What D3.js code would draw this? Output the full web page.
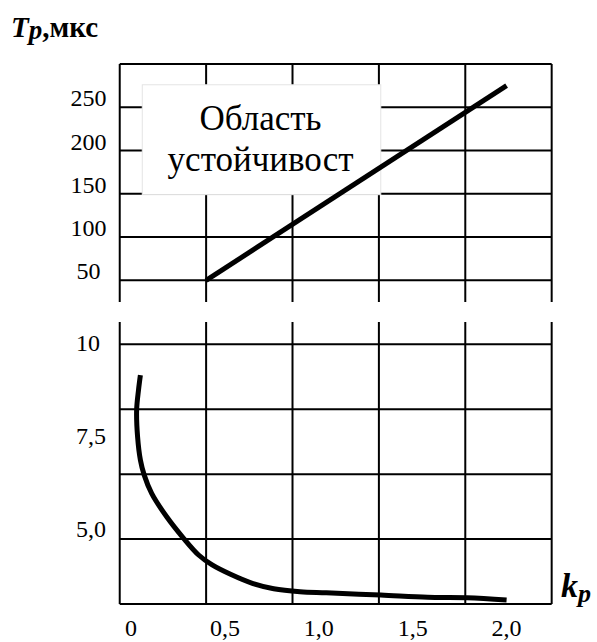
<!DOCTYPE html>
<html>
<head>
<meta charset="utf-8">
<script src="https://cdn.jsdelivr.net/npm/d3@7/dist/d3.min.js"></script>
<style>
  body { margin: 0; background: #fff; }
  svg text { font-family: "Liberation Serif", "Times New Roman", serif; fill: #000; }
  .grid line { stroke: #000; stroke-width: 2; }
  .curve { fill: none; stroke: #000; stroke-width: 5; stroke-linecap: butt; stroke-linejoin: round; }
</style>
</head>
<body>
<svg id="chart" width="597" height="642"></svg>
<script>

// tick labels on the k_p axis
const kTicks = [0, 0.5, 1.0, 1.5, 2.0];
const kLabels = ["0", "0,5", "1,0", "1,5", "2,0"];

// vertical grid lines (in k_p units, the grid does not sit on the labels)
const kGrid = [-0.06, 0.40, 0.86, 1.32, 1.78, 2.24];

// upper panel: T_p in mks
const upperTicks = [50, 100, 150, 200, 250];
const upperK = [0.4, 2.0];
const upperT = [50, 275];

// lower panel
const lowerTicks = [5.0, 7.5, 10];
const lowerLabels = ["5,0", "7,5", "10"];
const lowerGrid = [3, 4.75, 6.5, 8.25, 10];
const lowerK = [0.05, 0.04, 0.03, 0.035, 0.05, 0.07, 0.11, 0.19, 0.28, 0.36,
                0.43, 0.53, 0.65, 0.76, 0.90, 1.04, 1.33, 1.58, 1.79, 2.0];
const lowerT = [9.17, 8.77, 8.23, 7.51, 6.88, 6.48, 5.98, 5.35, 4.77, 4.32,
                4.06, 3.80, 3.55, 3.41, 3.33, 3.30, 3.24, 3.18, 3.17, 3.11];

var svg = d3.select("#chart");

// scales
var xScale = d3.scaleLinear().domain([0, 2]).range([131, 506.6]);
var yUpper = d3.scaleLinear().domain([25, 300]).range([302, 64]);
var yLower = d3.scaleLinear().domain([3, 10.6]).range([604, 322]);

var xLeft = xScale(kGrid[0]);
var xRight = xScale(kGrid[kGrid.length - 1]);

// ---- upper panel grid
var gUp = svg.append("g").attr("class", "grid");

gUp.selectAll("line.v")
    .data(kGrid)
    .enter().append("line")
    .attr("class", "v")
    .attr("x1", function(d) { return xScale(d); })
    .attr("x2", function(d) { return xScale(d); })
    .attr("y1", yUpper(300))
    .attr("y2", yUpper(25));

gUp.selectAll("line.h")
    .data(upperTicks.concat([300]))
    .enter().append("line")
    .attr("class", "h")
    .attr("x1", xLeft)
    .attr("x2", xRight)
    .attr("y1", function(d) { return yUpper(d); })
    .attr("y2", function(d) { return yUpper(d); });

// white label box over the grid
svg.append("rect")
    .attr("x", xScale(0.06))
    .attr("y", yUpper(276))
    .attr("width", xScale(1.33) - xScale(0.06))
    .attr("height", yUpper(149) - yUpper(276))
    .attr("fill", "#fff")
    .attr("stroke", "#e4e4e4")
    .attr("stroke-width", 1);

svg.append("text")
    .attr("x", xScale(0.69))
    .attr("y", yUpper(224))
    .attr("text-anchor", "middle")
    .attr("font-size", 35)
    .text("Область");

svg.append("text")
    .attr("x", xScale(0.69))
    .attr("y", yUpper(176))
    .attr("text-anchor", "middle")
    .attr("font-size", 35)
    .text("устойчивост");

// upper tick labels
svg.append("g").selectAll("text")
    .data(upperTicks)
    .enter().append("text")
    .attr("x", 88.5)
    .attr("y", function(d) { return yUpper(d) - 1; })
    .attr("text-anchor", "middle")
    .attr("font-size", 24)
    .text(function(d) { return d; });

// upper line
var lineUp = d3.line()
    .x(function(d) { return xScale(d[0]); })
    .y(function(d) { return yUpper(d[1]); });

svg.append("path")
    .attr("class", "curve")
    .attr("d", lineUp(d3.zip(upperK, upperT)));

// ---- lower panel grid
var gLow = svg.append("g").attr("class", "grid");

gLow.selectAll("line.v")
    .data(kGrid)
    .enter().append("line")
    .attr("class", "v")
    .attr("x1", function(d) { return xScale(d); })
    .attr("x2", function(d) { return xScale(d); })
    .attr("y1", yLower(10.6))
    .attr("y2", yLower(3));

gLow.selectAll("line.h")
    .data(lowerGrid)
    .enter().append("line")
    .attr("class", "h")
    .attr("x1", xLeft)
    .attr("x2", xRight)
    .attr("y1", function(d) { return yLower(d); })
    .attr("y2", function(d) { return yLower(d); });

// lower tick labels
svg.append("g").selectAll("text")
    .data(lowerTicks)
    .enter().append("text")
    .attr("x", 76)
    .attr("y", function(d) { return yLower(d) + 7; })
    .attr("font-size", 24)
    .text(function(d, i) { return lowerLabels[i]; });

// lower curve
var lineLow = d3.line()
    .x(function(d) { return xScale(d[0]); })
    .y(function(d) { return yLower(d[1]); })
    .curve(d3.curveCatmullRom);

svg.append("path")
    .attr("class", "curve")
    .attr("d", lineLow(d3.zip(lowerK, lowerT)));

// k_p tick labels
svg.append("g").selectAll("text")
    .data(kTicks)
    .enter().append("text")
    .attr("x", function(d) { return xScale(d); })
    .attr("y", 636)
    .attr("text-anchor", "middle")
    .attr("font-size", 24)
    .text(function(d, i) { return kLabels[i]; });

// axis titles
var title = svg.append("text")
    .attr("x", 11)
    .attr("y", 37)
    .attr("font-size", 29)
    .attr("font-weight", "bold");
title.append("tspan").attr("font-style", "italic").text("T");
title.append("tspan").attr("font-style", "italic").attr("font-size", 27).attr("dy", 2).text("p");
title.append("tspan").attr("dy", -2).text(",мкс");

var kTitle = svg.append("text")
    .attr("x", 561)
    .attr("y", 597)
    .attr("font-size", 34)
    .attr("font-weight", "bold")
    .attr("font-style", "italic");
kTitle.append("tspan").text("k");
kTitle.append("tspan").attr("font-size", 26).attr("dy", 5).text("p");

</script>
</body>
</html>
